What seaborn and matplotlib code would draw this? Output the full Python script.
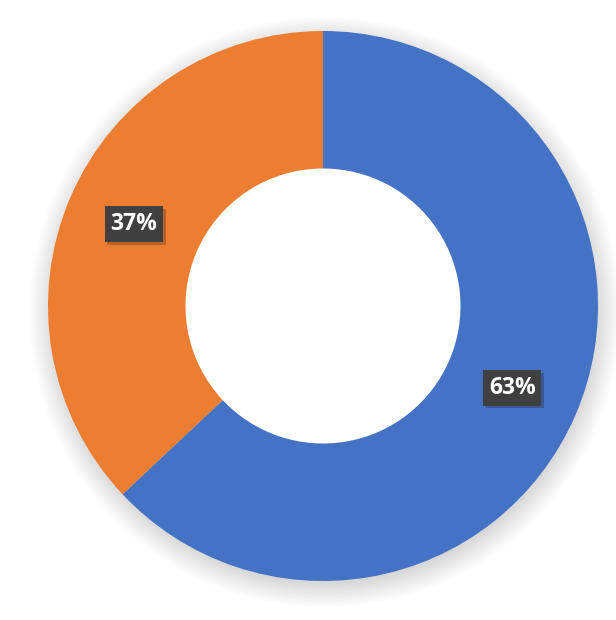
import matplotlib
matplotlib.use("Agg")
import matplotlib.pyplot as plt
import matplotlib.patheffects as pe
from matplotlib.patches import Circle
import seaborn as sns

# data
labels = ["Series A", "Series B"]
shares = [63, 37]
colors = ["#4472C4", "#ED7D31"]

sns.set_theme(style="white")
plt.rcParams['font.family'] = ['Open Sans', 'DejaVu Sans']

fig = plt.figure(figsize=(6.16, 6.20), dpi=100)
ax = fig.add_axes([0, 0, 1, 1])

cx, cy, r = 323, 314, 275

# soft shadow behind the ring
for i in range(20):
    ax.add_patch(Circle((cx + 2, cy - 6), r - 4 + i * 1.3, color="black",
                        alpha=0.009, lw=0, zorder=0))
# keep the hole clean
ax.add_patch(Circle((cx, cy), r * 0.5 + 2, color="white", lw=0, zorder=1))

wedges, texts, autotexts = ax.pie(
    shares, colors=colors, startangle=90, counterclock=False,
    center=(cx, cy), radius=r, autopct="%d%%", pctdistance=0.75,
    wedgeprops=dict(width=r * 0.5, linewidth=0),
    textprops=dict(color="white", fontsize=16.5, fontweight="bold"),
)
for w in wedges:
    w.set_zorder(2)

for t in autotexts:
    t.set_zorder(5)
    t.set_bbox(dict(facecolor="#404040", edgecolor="none", boxstyle="square,pad=0.25"))
    t.get_bbox_patch().set_path_effects(
        [pe.SimplePatchShadow(offset=(2, -2), alpha=0.25), pe.Normal()])

ax.set_xlim(0, 616)
ax.set_ylim(0, 620)
ax.set_aspect("equal")
ax.axis("off")

fig.savefig("out.png", dpi=100)
